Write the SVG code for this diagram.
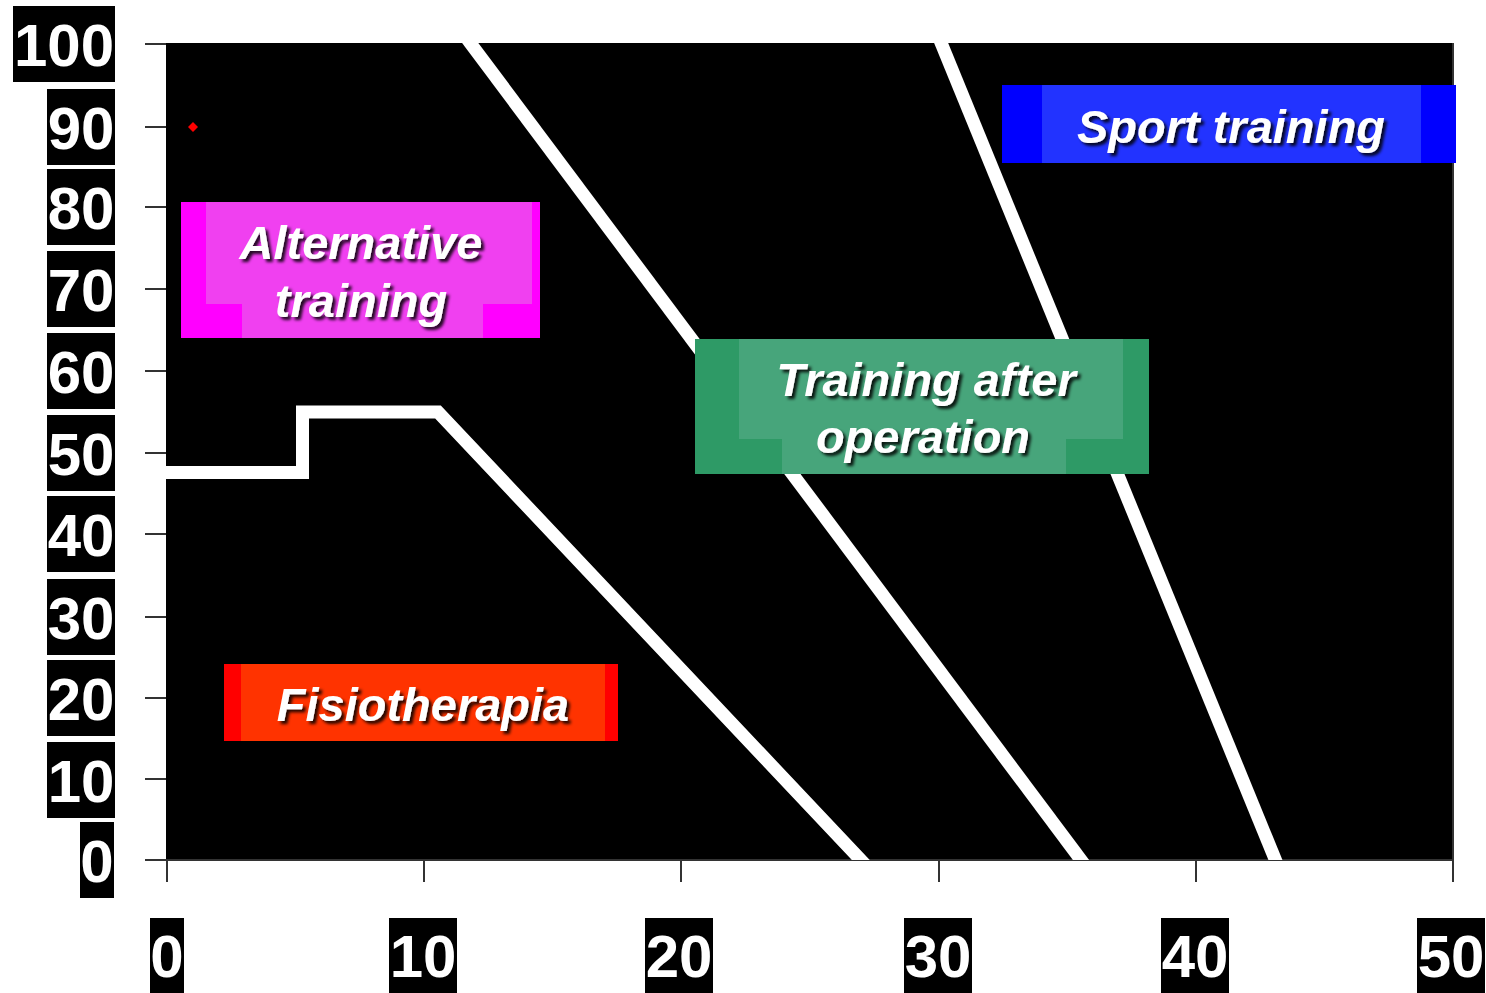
<svg xmlns="http://www.w3.org/2000/svg" width="1486" height="993" viewBox="0 0 1486 993">
<style>
.tick{stroke:#333;stroke-width:2;fill:none}
.lbox{fill:#000}
.lnum{font-family:"Liberation Sans",Arial,sans-serif;font-weight:bold;font-size:60px;fill:#fff;text-anchor:middle}
.curve{stroke:#fff;stroke-width:13;fill:none;stroke-linejoin:miter}
.tag{font-family:"Liberation Sans",Arial,sans-serif;font-weight:bold;font-style:italic;font-size:47px;fill:#fff;text-anchor:middle;filter:url(#sh)}
</style>
<defs>
<clipPath id="plot"><rect x="166" y="43" width="1287" height="817"/></clipPath>
<filter id="sh" x="-10%" y="-30%" width="120%" height="160%">
<feDropShadow dx="3" dy="3" stdDeviation="1.5" flood-color="#000" flood-opacity="0.85"/>
</filter>
</defs>
<rect width="1486" height="993" fill="#fff"/>
<g id="plot-area">
<rect x="166" y="43" width="1287" height="817" fill="#000"/>
</g>
<g id="axes">
<path class="tick" d="M145 44H166M145 127H166M145 207H166M145 289H166M145 371H166M145 453H166M145 534H166M145 617H166M145 698H166M145 779H166M145 860H1453"/>
<path class="tick" d="M167 860V882M424 860V882M681 860V882M939 860V882M1196 860V882M1453 860V882M1453 43V860"/>
</g>
<g id="y-labels">
<rect class="lbox" x="13" y="6" width="102" height="76"/><text class="lnum" x="64" y="66">100</text>
<rect class="lbox" x="47" y="89" width="68" height="76"/><text class="lnum" x="81" y="149">90</text>
<rect class="lbox" x="47" y="169" width="68" height="76"/><text class="lnum" x="81" y="229">80</text>
<rect class="lbox" x="47" y="251" width="68" height="76"/><text class="lnum" x="81" y="311">70</text>
<rect class="lbox" x="47" y="333" width="68" height="76"/><text class="lnum" x="81" y="393">60</text>
<rect class="lbox" x="47" y="415" width="68" height="76"/><text class="lnum" x="81" y="475">50</text>
<rect class="lbox" x="47" y="496" width="68" height="76"/><text class="lnum" x="81" y="556">40</text>
<rect class="lbox" x="47" y="579" width="68" height="76"/><text class="lnum" x="81" y="639">30</text>
<rect class="lbox" x="47" y="660" width="68" height="76"/><text class="lnum" x="81" y="720">20</text>
<rect class="lbox" x="47" y="742" width="68" height="76"/><text class="lnum" x="81" y="802">10</text>
<rect class="lbox" x="80" y="822" width="34" height="76"/><text class="lnum" x="97" y="882">0</text>
</g>
<g id="x-labels">
<rect class="lbox" x="150" y="918" width="34" height="75"/><text class="lnum" x="167" y="977">0</text>
<rect class="lbox" x="389" y="918" width="68" height="75"/><text class="lnum" x="423" y="977">10</text>
<rect class="lbox" x="645" y="918" width="68" height="75"/><text class="lnum" x="679" y="977">20</text>
<rect class="lbox" x="904" y="918" width="68" height="75"/><text class="lnum" x="938" y="977">30</text>
<rect class="lbox" x="1161" y="918" width="68" height="75"/><text class="lnum" x="1195" y="977">40</text>
<rect class="lbox" x="1417" y="918" width="68" height="75"/><text class="lnum" x="1451" y="977">50</text>
</g>
<g id="connectors" clip-path="url(#plot)">
<path class="curve" d="M150 472.5H302.5V412H438L875 875"/>
<path class="curve" d="M459 28L1093 876"/>
<path class="curve" d="M935 28L1282 876"/>
</g>
<g id="marker-point">
<path d="M193 122L198 127L193 132L188 127Z" fill="#f00"/>
</g>
<g id="node-alternative">
<rect x="181" y="202" width="359" height="136" fill="#ff00ff"/>
<path d="M206 202H532V304H483V338H242V304H206Z" fill="#f040f0"/>
<text class="tag" x="361" y="259">Alternative</text>
<text class="tag" x="361" y="317">training</text>
</g>
<g id="node-operation">
<rect x="695" y="339" width="454" height="135" fill="#2e9a66"/>
<path d="M739 339H1123V439H1066V474H782V439H739Z" fill="#47a57b"/>
<text class="tag" x="926" y="396">Training after</text>
<text class="tag" x="923" y="453">operation</text>
</g>
<g id="node-sport">
<rect x="1002" y="85" width="454" height="78" fill="#0000ff"/>
<rect x="1042" y="85" width="379" height="78" fill="#2233ff"/>
<text class="tag" x="1231" y="143">Sport training</text>
</g>
<g id="node-fisio">
<rect x="224" y="664" width="394" height="77" fill="#ff0000"/>
<rect x="241" y="664" width="364" height="77" fill="#ff3300"/>
<text class="tag" x="423" y="721">Fisiotherapia</text>
</g>
</svg>
